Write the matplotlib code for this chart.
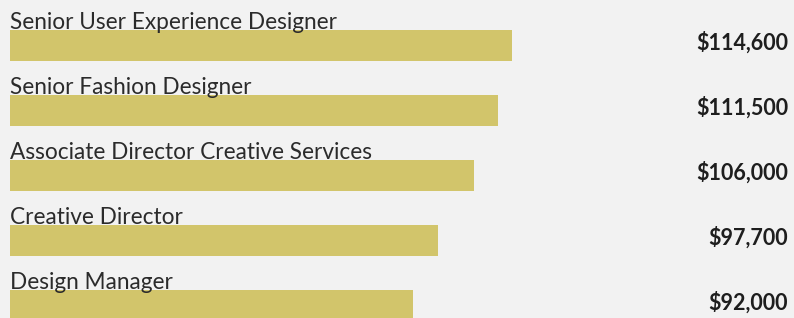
import matplotlib.pyplot as plt

titles = ["Senior User Experience Designer", "Senior Fashion Designer",
          "Associate Director Creative Services", "Creative Director",
          "Design Manager"]
salaries = [114600, 111500, 106000, 97700, 92000]
salary_labels = ["$114,600", "$111,500", "$106,000", "$97,700", "$92,000"]

bg = '#f2f2f2'
bar_color = '#d2c56b'

fig = plt.figure(figsize=(7.94, 3.18), dpi=100, facecolor=bg)
ax = fig.add_axes([0, 0, 1, 1], facecolor=bg)

ypos = list(range(len(titles)))
h = 0.477
ax.barh(ypos, salaries, height=h, color=bar_color)

for i in ypos:
    ax.text(0, i - h / 2 - 0.01, titles[i], ha='left', va='baseline',
            fontsize=16.3, family='Lato', color='#2b2b2b')
    ax.text(177600, i - 0.04, salary_labels[i], ha='right', va='center',
            fontsize=15.5, family='Lato', fontweight='bold', color='#1e1e1e')

px = 502 / 114600
ax.set_xlim(-10 / px, 784 / px)
ax.set_ylim(4.19, -0.7)
ax.axis('off')

fig.savefig('out.png', dpi=100, facecolor=bg)
